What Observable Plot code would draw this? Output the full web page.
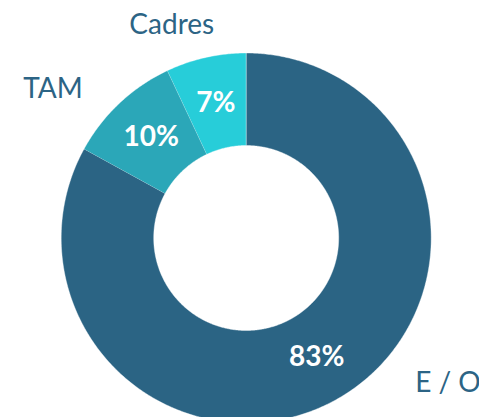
<!DOCTYPE html>
<html><head><meta charset="utf-8">
<script src="https://cdn.jsdelivr.net/npm/d3@7"></script>
<script src="https://cdn.jsdelivr.net/npm/@observablehq/plot@0.6"></script>
<style>html,body{margin:0;padding:0;background:#fff;overflow:hidden}</style>
</head><body><div id="chart"></div>
<script>
const categories = ["E / O", "TAM", "Cadres"];
const shares = [83, 10, 7];
const valueLabels = ["83%", "10%", "7%"];

const palette = ["#2B6484", "#2BA7B8", "#27CDD9"];
const textColor = "#2C6485";
const W = 479, H = 417, CX = 245.7, CY = 237.5, RPX = 185;
// pixel nudges for the outside category labels (Excel-style manual placement)
const nudge = {"E / O": [84, -54], "TAM": [-35, 20], "Cadres": [-24, 13]};

const total = d3.sum(shares);
let acc = 0;
const slices = categories.map((c, i) => {
  const a0 = acc / total * 2 * Math.PI; acc += shares[i];
  const a1 = acc / total * 2 * Math.PI;
  return {cat: c, a0, a1, mid: (a0 + a1) / 2, label: valueLabels[i]};
});
const R0 = 0.5, R1 = 1;
const ringPts = slices.flatMap(s => {
  const n = Math.max(2, Math.ceil((s.a1 - s.a0) / (Math.PI / 360)));
  const pts = [];
  for (let k = 0; k <= n; k++) { const a = s.a0 + (s.a1 - s.a0) * k / n; pts.push({cat: s.cat, x: R1 * Math.sin(a), y: R1 * Math.cos(a)}); }
  for (let k = n; k >= 0; k--) { const a = s.a0 + (s.a1 - s.a0) * k / n; pts.push({cat: s.cat, x: R0 * Math.sin(a), y: R0 * Math.cos(a)}); }
  return pts;
});

const chart = Plot.plot({
  width: W, height: H,
  margin: 0,
  style: {background: "#fff", fontFamily: "Lato, sans-serif", overflow: "visible"},
  x: {domain: [-CX / RPX, (W - CX) / RPX], axis: null},
  y: {domain: [-(H - CY) / RPX, CY / RPX], axis: null},
  color: {domain: categories, range: palette},
  marks: [
    Plot.line(ringPts, {x: "x", y: "y", z: "cat", fill: "cat", stroke: "#fff", strokeWidth: 0.4, curve: "linear"}),
    Plot.text(slices, {
      x: d => 0.75 * Math.sin(d.mid), y: d => 0.75 * Math.cos(d.mid),
      text: "label", fill: "#fff", fontWeight: "bold", fontSize: 28, lineAnchor: "middle", textAnchor: "middle"
    }),
    Plot.text(slices, {
      x: d => 1.25 * Math.sin(d.mid) + nudge[d.cat][0] / RPX,
      y: d => 1.25 * Math.cos(d.mid) - nudge[d.cat][1] / RPX,
      text: "cat", fill: textColor, fontSize: 28, lineAnchor: "middle", textAnchor: "middle"
    })
  ]
});
document.getElementById("chart").appendChild(chart);
</script></body></html>
